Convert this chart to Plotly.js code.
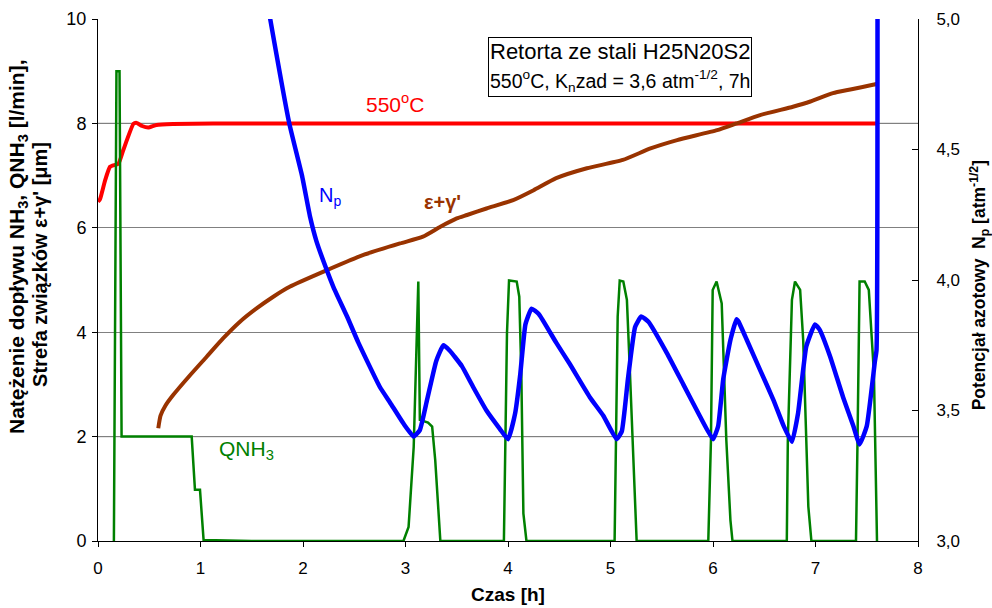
<!DOCTYPE html>
<html>
<head>
<meta charset="utf-8">
<script src="https://cdn.plot.ly/plotly-3.0.1.min.js"></script>
<style>html,body{margin:0;padding:0;background:#fff;}#chart{width:992px;height:608px;}</style>
</head>
<body>
<div id="chart"></div>
<script>
// Temperature 550°C (scaled to left axis)
const tempX = [0.0, 0.02, 0.068, 0.117, 0.2, 0.247, 0.345, 0.377, 0.43, 0.49, 0.57, 0.73, 1.5, 3.0, 5.0, 7.6];
const tempY = [6.5, 6.55, 6.9, 7.17, 7.23, 7.49, 7.99, 8.01, 7.95, 7.92, 7.97, 7.99, 8.0, 8.0, 8.0, 8.0];

// QNH3 flow [l/min]
const qX = [0.155, 0.175, 0.18, 0.21, 0.23, 0.5, 0.914, 0.946, 0.995, 1.03, 1.5, 2.0, 2.5, 2.98, 3.03, 3.08, 3.125, 3.14, 3.22, 3.26, 3.29, 3.34, 3.6,
            3.96, 3.99, 4.01, 4.085, 4.11, 4.13, 4.15, 4.18, 4.6,
            5.04, 5.07, 5.09, 5.125, 5.16, 5.19, 5.24, 5.255, 5.6,
            5.954, 5.98, 5.997, 6.035, 6.085, 6.13, 6.17, 6.19, 6.45,
            6.72, 6.73, 6.77, 6.8, 6.85, 6.88, 6.93, 6.96, 7.2,
            7.395, 7.41, 7.43, 7.48, 7.52, 7.57, 7.6];
const qY = [0, 9.0, 9.0, 9.0, 2.0, 2.0, 2.0, 0.98, 0.98, 0.02, 0, 0, 0, 0, 0.27, 1.8, 4.97, 2.32, 2.27, 2.19, 1.55, 0, 0,
            0, 3.98, 4.99, 4.97, 4.68, 3.2, 0.53, 0, 0,
            0, 4.3, 4.99, 4.97, 4.62, 3.21, 0.53, 0, 0,
            0, 1.93, 4.81, 4.97, 4.55, 1.93, 0.4, 0, 0,
            0, 1.93, 4.62, 4.97, 4.81, 3.85, 0.66, 0, 0,
            0, 1.93, 4.97, 4.97, 4.81, 3.21, 0];

// Compound zone e+g' [um]
const layerX = [0.588, 0.61, 0.66, 0.735, 0.9, 1.06, 1.22, 1.385, 1.55, 1.71, 1.87, 2.2, 2.59, 2.946, 3.17, 3.34, 3.5, 3.6, 3.79, 4.05, 4.25, 4.47, 4.77, 5.12, 5.39, 5.65, 6.04, 6.23, 6.46, 6.78, 6.95, 7.17, 7.34, 7.56, 7.6];
const layerY = [2.16, 2.4, 2.6, 2.8, 3.18, 3.53, 3.88, 4.2, 4.46, 4.68, 4.87, 5.16, 5.48, 5.70, 5.83, 6.02, 6.18, 6.245, 6.37, 6.53, 6.72, 6.95, 7.14, 7.30, 7.52, 7.68, 7.87, 8.0, 8.16, 8.32, 8.42, 8.58, 8.65, 8.74, 8.76];

// Nitriding potential Np [atm^-1/2] (right axis)
const npX = [1.62, 1.68, 1.866, 1.99, 2.07, 2.13, 2.23, 2.30, 2.43, 2.54, 2.75, 2.85, 2.98, 3.08, 3.14, 3.21, 3.30, 3.37, 3.43, 3.55, 3.66, 3.79, 3.92,
             4.0, 4.07, 4.12, 4.17, 4.23, 4.30, 4.47, 4.60, 4.80, 4.93, 5.06, 5.11, 5.17, 5.24, 5.30, 5.37, 5.55, 5.71, 5.87,
             6.0, 6.05, 6.10, 6.17, 6.23, 6.25, 6.33, 6.46, 6.59, 6.69, 6.77, 6.83, 6.91, 6.995, 7.04, 7.14, 7.27, 7.37, 7.43, 7.5, 7.58, 7.595, 7.605];
const npY = [5.14, 5.0, 4.60, 4.40, 4.24, 4.15, 4.04, 3.97, 3.86, 3.76, 3.59, 3.53, 3.45, 3.40, 3.425, 3.54, 3.69, 3.75, 3.73, 3.67, 3.59, 3.50, 3.43,
             3.39, 3.49, 3.64, 3.83, 3.89, 3.87, 3.76, 3.68, 3.55, 3.48, 3.39, 3.42, 3.62, 3.82, 3.86, 3.84, 3.72, 3.60, 3.48,
             3.39, 3.44, 3.62, 3.77, 3.85, 3.84, 3.77, 3.655, 3.54, 3.44, 3.38, 3.49, 3.745, 3.83, 3.81, 3.71, 3.55, 3.44, 3.37, 3.44, 3.69, 3.73, 5.3];

const leftTicks = [0, 2, 4, 6, 8, 10];
const rightTicks = [3.0, 3.5, 4.0, 4.5, 5.0];
const xTicks = [0, 1, 2, 3, 4, 5, 6, 7, 8];

const FONT = 'Arial, "Liberation Sans", sans-serif';

const traces = [
  {x: tempX, y: tempY, type: 'scatter', mode: 'lines', line: {color: '#ff0000', width: 4, shape: 'spline', smoothing: 0.4}, yaxis: 'y', hoverinfo: 'skip'},
  {x: qX, y: qY, type: 'scatter', mode: 'lines', line: {color: '#008000', width: 2.5}, yaxis: 'y', hoverinfo: 'skip'},
  {x: layerX, y: layerY, type: 'scatter', mode: 'lines', line: {color: '#993300', width: 4, shape: 'spline', smoothing: 0.5}, yaxis: 'y', hoverinfo: 'skip'},
  {x: npX, y: npY, type: 'scatter', mode: 'lines', line: {color: '#0000ff', width: 4.5, shape: 'spline', smoothing: 0.4}, yaxis: 'y2', hoverinfo: 'skip'}
];

const layout = {
  width: 992, height: 608,
  margin: {l: 98, r: 74, t: 19, b: 67},
  paper_bgcolor: '#ffffff', plot_bgcolor: '#ffffff',
  showlegend: false,
  separators: ', ',
  font: {family: FONT, color: '#000', size: 17},
  xaxis: {
    range: [0, 8], tickvals: xTicks, ticks: 'outside', ticklen: 5, tickcolor: '#000',
    showline: true, linecolor: '#000', linewidth: 1, showgrid: false, zeroline: false,
    tickfont: {size: 17, family: FONT}, ticklabelstandoff: 7,
    title: {text: '<b>Czas [h]</b>', font: {size: 19, family: FONT}, standoff: 10}
  },
  yaxis: {
    range: [0, 10], tickvals: leftTicks, ticks: 'outside', ticklen: 5, tickcolor: '#000',
    showline: true, linecolor: '#000', linewidth: 1, showgrid: true, gridcolor: '#808080', gridwidth: 1.3, zeroline: false,
    tickfont: {size: 18, family: FONT}, ticklabelstandoff: 2
  },
  yaxis2: {
    range: [3, 5], overlaying: 'y', side: 'right', tickvals: rightTicks, tickformat: '.1f',
    ticks: 'inside', ticklen: 6, tickcolor: '#000',
    showline: true, linecolor: '#000', linewidth: 1, showgrid: false, zeroline: false,
    tickfont: {size: 17, family: FONT}, ticklabelstandoff: 14
  },
  shapes: [
    {type: 'line', xref: 'paper', x0: 0, x1: 1, yref: 'y', y0: 2, y1: 2, line: {color: '#000', width: 1}, layer: 'below'},
    {type: 'line', xref: 'paper', x0: 0, x1: 1, yref: 'y', y0: 8, y1: 8, line: {color: '#000', width: 1}, layer: 'below'}
  ],
  annotations: [
    // axis titles
    {xref: 'paper', yref: 'paper', x: -0.0976, y: 0.565, xanchor: 'center', yanchor: 'middle', textangle: -90, showarrow: false,
     text: '<b>Natężenie dopływu NH<sub>3</sub>, QNH<sub>3</sub> [l/min],</b>', font: {size: 21, family: FONT, color: '#000'}},
    {xref: 'paper', yref: 'paper', x: -0.0707, y: 0.529, xanchor: 'center', yanchor: 'middle', textangle: -90, showarrow: false,
     text: "<b>Strefa związków ε+γ' [μm]</b>", font: {size: 20, family: FONT, color: '#000'}},
    {xref: 'paper', yref: 'paper', x: 1.0745, y: 0.49, xanchor: 'center', yanchor: 'middle', textangle: -90, showarrow: false,
     text: '<b>Potencjał azotowy  N<sub>p</sub> [atm<sup>-1/2</sup>]</b>', font: {size: 17.5, family: FONT, color: '#000'}},
    // info box
    {xref: 'x', yref: 'y', x: 5.09, y: 9.08, xanchor: 'center', yanchor: 'middle', showarrow: false,
     text: 'Retorta ze stali H25N20S2<br><span style="font-size:19.5px">550<sup>o</sup>C, K<sub>n</sub>zad = 3,6 atm<sup>-1/2</sup>, 7h</span>',
     font: {size: 22, family: FONT, color: '#000'}, bordercolor: '#000', borderwidth: 1, borderpad: 1, bgcolor: '#fff', align: 'center'},
    // series labels
    {xref: 'x', yref: 'y', x: 2.9, y: 8.4, showarrow: false, text: '550<sup>o</sup>C', font: {size: 21, family: FONT, color: '#ff0000'}},
    {xref: 'x', yref: 'y', x: 2.26, y: 6.6, showarrow: false, text: 'N<sub>p</sub>', font: {size: 20, family: FONT, color: '#0000ff'}},
    {xref: 'x', yref: 'y', x: 3.36, y: 6.5, showarrow: false, text: "<b>ε+γ'</b>", font: {size: 20, family: FONT, color: '#993300'}},
    {xref: 'x', yref: 'y', x: 1.45, y: 1.75, showarrow: false, text: 'QNH<sub>3</sub>', font: {size: 21, family: FONT, color: '#008000'}}
  ]
};

Plotly.newPlot('chart', traces, layout, {displayModeBar: false, staticPlot: true});
</script>
</body>
</html>
